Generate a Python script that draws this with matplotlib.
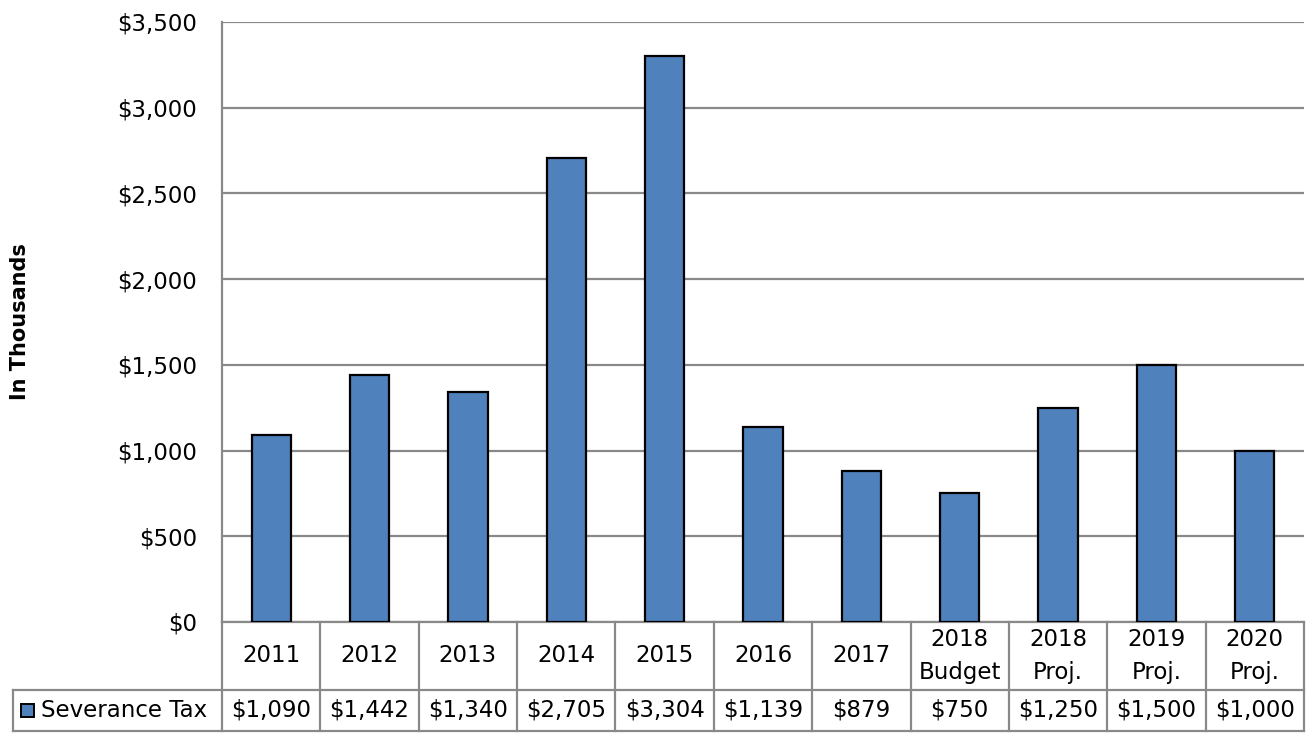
import matplotlib.pyplot as plt
from matplotlib.patches import Rectangle

# data
categories = ['2011', '2012', '2013', '2014', '2015', '2016', '2017',
              '2018\nBudget', '2018\nProj.', '2019\nProj.', '2020\nProj.']
severance_tax = [1090, 1442, 1340, 2705, 3304, 1139, 879, 750, 1250, 1500, 1000]
series_name = 'Severance Tax'

W, H = 1314, 733
fig = plt.figure(figsize=(W / 100, H / 100), dpi=100)
plt.rcParams['font.family'] = ['DejaVu Sans']
fs = 16.5

# plot area in pixels
left, right, top, bottom = 222, 1304, 22, 622
ax = fig.add_axes([left / W, (H - bottom) / H, (right - left) / W, (bottom - top) / H])

grid_col = '#898989'
x = list(range(len(categories)))
ax.bar(x, severance_tax, width=0.4, color='#4F81BD', edgecolor='black', linewidth=1.6, zorder=3)

ax.set_xlim(-0.5, len(categories) - 0.5)
ax.set_ylim(0, 3500)
ax.set_yticks(range(0, 3501, 500))
ax.set_yticklabels(['${:,}'.format(v) for v in range(0, 3501, 500)], fontsize=fs)
ax.tick_params(axis='y', length=0, pad=18)
ax.set_xticks([])
ax.yaxis.grid(True, color=grid_col, linewidth=1.6, zorder=0)
for s in ['top', 'right', 'bottom']:
    ax.spines[s].set_visible(False)
ax.spines['left'].set_color(grid_col)
ax.spines['left'].set_linewidth(1.6)
ax.set_ylabel('In Thousands', fontsize=15, fontweight='bold')
ax.yaxis.set_label_coords(-(left - 30) / (right - left), 0.5)

# data table below the axes (x in data units, y in axes units)
tr = ax.get_xaxis_transform()
ph = bottom - top
r1 = -68 / ph
r2 = -109 / ph
leg_left = -0.5 - (left - 13) * len(categories) / (right - left)
xr = len(categories) - 0.5
lkw = dict(color=grid_col, linewidth=1.6, transform=tr, clip_on=False)

ax.plot([-0.5, xr], [0, 0], **lkw)
ax.plot([leg_left, xr], [r1, r1], **lkw)
ax.plot([leg_left, xr], [r2, r2], **lkw)
ax.plot([leg_left, leg_left], [r1, r2], **lkw)
for i in range(len(categories) + 1):
    ax.plot([i - 0.5, i - 0.5], [0, r2], **lkw)

for i, (c, v) in enumerate(zip(categories, severance_tax)):
    ax.text(i, r1 / 2, c, ha='center', va='center', fontsize=fs, linespacing=1.55,
            transform=tr, clip_on=False)
    ax.text(i, (r1 + r2) / 2, '${:,}'.format(v), ha='center', va='center', fontsize=fs,
            transform=tr, clip_on=False)

# legend key and series name
px = len(categories) / (right - left)
key_x = leg_left + 8 * px
ax.add_patch(Rectangle((key_x, (r1 + r2) / 2 - 6.5 / ph), 13 * px, 13 / ph, transform=tr,
                       facecolor='#4F81BD', edgecolor='black', linewidth=1.4, clip_on=False))
ax.text(key_x + 20 * px, (r1 + r2) / 2, series_name, ha='left', va='center', fontsize=fs,
        transform=tr, clip_on=False)

fig.savefig('out.png', dpi=100)
